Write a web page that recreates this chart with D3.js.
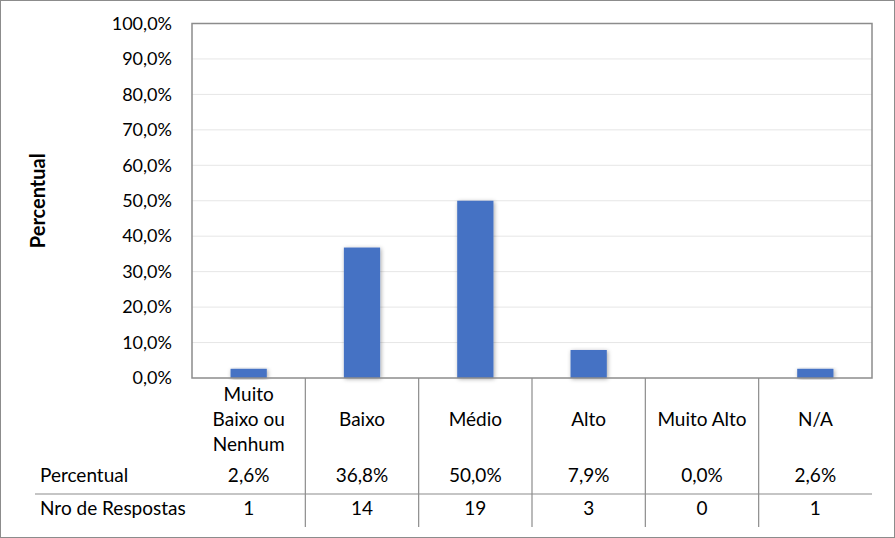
<!DOCTYPE html>
<html>
<head>
<meta charset="utf-8">
<script src="https://cdn.jsdelivr.net/npm/d3@7"></script>
<style>
  body { margin: 0; background: #fff; }
  svg text { font-family: Lato, "Open Sans", sans-serif; fill: #000; }
</style>
</head>
<body>
<div id="chart"></div>
<script>
const categories = [["Muito", "Baixo ou", "Nenhum"], ["Baixo"], ["Médio"], ["Alto"], ["Muito Alto"], ["N/A"]];
const percentValues = [2.6, 36.8, 50.0, 7.9, 0.0, 2.6];
const responseCounts = [1, 14, 19, 3, 0, 1];
const yTicks = [0, 10, 20, 30, 40, 50, 60, 70, 80, 90, 100];
const rowLabels = ["Percentual", "Nro de Respostas"];

const W = 895, H = 538;
const margin = {top: 23.5, right: 23, bottom: 160, left: 192};
const width = W - margin.left - margin.right,
      height = H - margin.top - margin.bottom;

const fmt = v => v.toFixed(1).replace(".", ",") + "%";

const svg = d3.select("#chart").append("svg")
    .attr("width", W).attr("height", H);

// outer frame
svg.append("rect")
    .attr("x", 0.5).attr("y", 0.5)
    .attr("width", W - 1).attr("height", H - 1)
    .attr("fill", "#fff").attr("stroke", "#8c8c8c");

const defs = svg.append("defs");
const shadow = defs.append("filter").attr("id", "shadow")
    .attr("x", "-30%").attr("y", "-10%").attr("width", "160%").attr("height", "130%");
shadow.append("feDropShadow")
    .attr("dx", 1).attr("dy", 1).attr("stdDeviation", 2)
    .attr("flood-color", "#000").attr("flood-opacity", 0.35);

const g = svg.append("g")
    .attr("transform", `translate(${margin.left},${margin.top})`);

const x = d3.scaleBand()
    .domain(d3.range(categories.length))
    .range([0, width])
    .paddingInner(0.68).paddingOuter(0.34);

const band = width / categories.length;

const y = d3.scaleLinear().domain([0, 100]).range([height, 0]);

// gridlines
g.append("g")
    .selectAll("line")
    .data(yTicks.filter(t => t > 0 && t < 100))
    .enter().append("line")
    .attr("x1", 0).attr("x2", width)
    .attr("y1", d => y(d)).attr("y2", d => y(d))
    .attr("stroke", "#e6e6e6").attr("stroke-width", 1);

// y tick labels
const yAxis = g.append("g")
    .call(d3.axisLeft(y).tickValues(yTicks).tickFormat(fmt).tickSize(0).tickPadding(20));
yAxis.select(".domain").remove();
yAxis.selectAll("text")
    .style("font-family", "Lato, sans-serif")
    .style("font-size", "18px")
    .attr("fill", "#000");

// bars
g.append("g")
    .selectAll("rect")
    .data(percentValues)
    .enter().append("rect")
    .attr("x", (d, i) => x(i))
    .attr("y", d => y(d))
    .attr("width", x.bandwidth())
    .attr("height", d => height - y(d))
    .attr("fill", "#4472C4")
    .attr("filter", "url(#shadow)");

// plot border
g.append("rect")
    .attr("x", 0).attr("y", 0)
    .attr("width", width).attr("height", height)
    .attr("fill", "none").attr("stroke", "#8c8c8c").attr("stroke-width", 1.5);

// data table
const table = g.append("g").attr("transform", `translate(0,${height})`);
const rowSplit = 116, tableBottom = 149;
const fs = "19px";

table.selectAll(".vline")
    .data(d3.range(1, categories.length))
    .enter().append("line")
    .attr("x1", d => d * band).attr("x2", d => d * band)
    .attr("y1", 0).attr("y2", tableBottom)
    .attr("stroke", "#8c8c8c").attr("stroke-width", 1.2);

table.append("line")
    .attr("x1", 35 - margin.left).attr("x2", width)
    .attr("y1", rowSplit).attr("y2", rowSplit)
    .attr("stroke", "#8c8c8c").attr("stroke-width", 1.2);

// category labels
table.selectAll(".cat")
    .data(categories)
    .enter().append("text")
    .attr("text-anchor", "middle")
    .style("font-size", fs)
    .attr("transform", (d, i) => `translate(${x(i) + x.bandwidth() / 2},${43 - (d.length - 1) * 12.5})`)
    .each(function(d) {
        d3.select(this).selectAll("tspan")
            .data(d)
            .enter().append("tspan")
            .attr("x", 0)
            .attr("dy", (t, j) => j === 0 ? 0 : 25)
            .text(t => t);
    })
    .attr("dominant-baseline", "middle");

// row labels
table.selectAll(".rowlabel")
    .data(rowLabels)
    .enter().append("text")
    .attr("x", 40 - margin.left)
    .attr("y", (d, i) => i === 0 ? 99 : 132)
    .attr("dominant-baseline", "middle")
    .style("font-size", fs)
    .text(d => d);

table.selectAll(".pct")
    .data(percentValues)
    .enter().append("text")
    .attr("x", (d, i) => x(i) + x.bandwidth() / 2)
    .attr("y", 99)
    .attr("text-anchor", "middle")
    .attr("dominant-baseline", "middle")
    .style("font-size", fs)
    .text(d => fmt(d));

table.selectAll(".cnt")
    .data(responseCounts)
    .enter().append("text")
    .attr("x", (d, i) => x(i) + x.bandwidth() / 2)
    .attr("y", 132)
    .attr("text-anchor", "middle")
    .attr("dominant-baseline", "middle")
    .style("font-size", fs)
    .text(d => d);

// y axis title
svg.append("text")
    .attr("transform", `translate(40,${margin.top + height / 2}) rotate(-90)`)
    .attr("text-anchor", "middle")
    .attr("dominant-baseline", "middle")
    .style("font-size", "20px")
    .style("font-weight", "bold")
    .text("Percentual");
</script>
</body>
</html>
